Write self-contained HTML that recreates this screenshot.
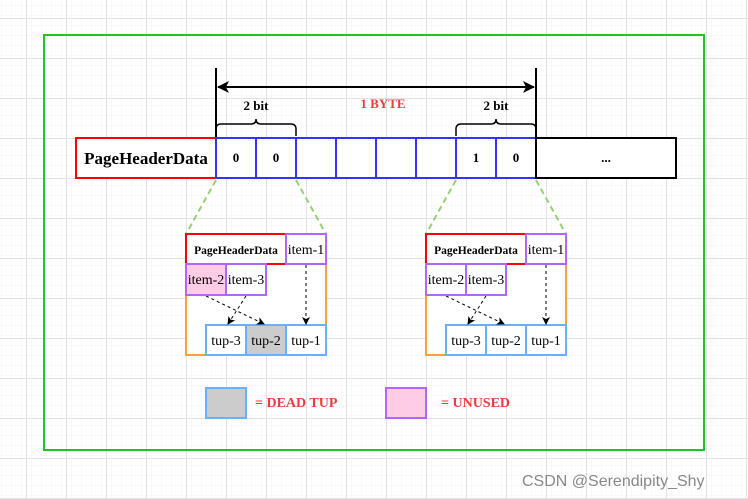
<!DOCTYPE html>
<html><head><meta charset="utf-8"><style>
body{margin:0;width:748px;height:499px;overflow:hidden;background:#fff;}
svg{display:block}
text{font-family:"Liberation Serif",serif;}
</style></head><body>
<svg width="748" height="499" viewBox="0 0 748 499" xmlns="http://www.w3.org/2000/svg">
<defs>
<pattern id="minor" x="6" y="8" width="10" height="10" patternUnits="userSpaceOnUse"><path d="M10 0V10M0 10H10" stroke="#f3f3f3" stroke-width="1" fill="none"/></pattern>
<pattern id="major" x="26" y="18" width="40" height="40" patternUnits="userSpaceOnUse"><rect width="40" height="40" fill="url(#minor)"/><path d="M0.5 0V40M0 0.5H40" stroke="#e2e2e2" stroke-width="1" fill="none"/></pattern>
<marker id="ah" markerWidth="8" markerHeight="8" refX="7" refY="4" orient="auto"><path d="M0 0L8 4L0 8L2 4Z" fill="#000"/></marker>
<marker id="big" markerWidth="12" markerHeight="12" refX="1" refY="6" orient="auto" markerUnits="userSpaceOnUse"><path d="M12 0L0 6L12 12L9 6Z" fill="#000"/></marker>
<marker id="big2" markerWidth="12" markerHeight="12" refX="11" refY="6" orient="auto" markerUnits="userSpaceOnUse"><path d="M0 0L12 6L0 12L3 6Z" fill="#000"/></marker>
</defs>
<rect width="748" height="499" fill="url(#major)"/>
<rect x="44" y="35" width="660" height="415" fill="none" stroke="#22c322" stroke-width="2"/>
<line x1="216" y1="68" x2="216" y2="138" stroke="#000" stroke-width="2"/>
<line x1="536" y1="68" x2="536" y2="138" stroke="#000" stroke-width="2"/>
<line x1="218" y1="87" x2="534" y2="87" stroke="#000" stroke-width="2" marker-start="url(#big)" marker-end="url(#big2)"/>
<text x="383" y="108" font-size="13" font-weight="bold" fill="#f03b3b" text-anchor="middle">1 BYTE</text>
<text x="256" y="110" font-size="13" font-weight="bold" text-anchor="middle">2 bit</text>
<text x="496" y="110" font-size="13" font-weight="bold" text-anchor="middle">2 bit</text>
<path d="M216 136V129Q216 124 221 124H251Q256 124 256 119Q256 124 261 124H291Q296 124 296 129V136" fill="none" stroke="#000" stroke-width="1.5"/>
<path d="M456 136V129Q456 124 461 124H491Q496 124 496 119Q496 124 501 124H531Q536 124 536 129V136" fill="none" stroke="#000" stroke-width="1.5"/>
<rect x="76" y="138" width="140" height="40" fill="#fff" stroke="#f00" stroke-width="2"/>
<text x="146" y="164" font-size="17" font-weight="bold" text-anchor="middle">PageHeaderData</text>
<g fill="#fff" stroke="#3333ff" stroke-width="2">
<rect x="216" y="138" width="40" height="40"/><rect x="256" y="138" width="40" height="40"/><rect x="296" y="138" width="40" height="40"/><rect x="336" y="138" width="40" height="40"/><rect x="376" y="138" width="40" height="40"/><rect x="416" y="138" width="40" height="40"/><rect x="456" y="138" width="40" height="40"/><rect x="496" y="138" width="40" height="40"/>
</g>
<rect x="536" y="138" width="140" height="40" fill="#fff" stroke="#000" stroke-width="2"/>
<g font-size="13" font-weight="bold" text-anchor="middle">
<text x="236" y="162">0</text><text x="276" y="162">0</text><text x="476" y="162">1</text><text x="516" y="162">0</text><text x="606" y="162">...</text>
</g>
<g stroke="#97d077" stroke-width="2" stroke-dasharray="6,4">
<line x1="216" y1="180" x2="186" y2="234"/><line x1="296" y1="180" x2="326" y2="234"/>
<line x1="456" y1="180" x2="426" y2="234"/><line x1="536" y1="180" x2="566" y2="234"/>
</g>
<g id="d">
<rect x="186" y="234" width="140" height="121" fill="#fff" stroke="#ffa040" stroke-width="2"/>
<rect x="186" y="234" width="100" height="30" fill="#fff" stroke="#f00" stroke-width="2"/>
<text x="236" y="254" font-size="11.5" font-weight="bold" text-anchor="middle">PageHeaderData</text>
<rect x="286" y="234" width="40" height="30" fill="#fff" stroke="#b266ff" stroke-width="2"/>
<text x="306" y="254" font-size="14" text-anchor="middle">item-1</text>
<rect x="226" y="264" width="40" height="31" fill="#fff" stroke="#b266ff" stroke-width="2"/>
<text x="246" y="284" font-size="14" text-anchor="middle">item-3</text>
<rect x="206" y="325" width="120" height="30" fill="#fff" stroke="#66b2ff" stroke-width="2"/>
<line x1="246" y1="325" x2="246" y2="355" stroke="#66b2ff" stroke-width="2"/>
<line x1="286" y1="325" x2="286" y2="355" stroke="#66b2ff" stroke-width="2"/>
<g font-size="14" text-anchor="middle"><text x="226" y="345">tup-3</text><text x="306" y="345">tup-1</text></g>
<g stroke="#000" stroke-width="1" stroke-dasharray="3,3" marker-end="url(#ah)">
<line x1="306" y1="265" x2="306" y2="324"/>
<line x1="206" y1="296" x2="264" y2="324"/>
<line x1="246" y1="296" x2="228" y2="324"/>
</g>
</g>
<rect x="186" y="264" width="40" height="31" fill="#ffcce6" stroke="#b266ff" stroke-width="2"/>
<text x="206" y="284" font-size="14" text-anchor="middle">item-2</text>
<rect x="247" y="326" width="38" height="28" fill="#cccccc"/>
<text x="266" y="345" font-size="14" text-anchor="middle">tup-2</text>
<use href="#d" x="240"/>
<rect x="426" y="264" width="40" height="31" fill="#fff" stroke="#b266ff" stroke-width="2"/>
<text x="446" y="284" font-size="14" text-anchor="middle">item-2</text>
<text x="506" y="345" font-size="14" text-anchor="middle">tup-2</text>
<rect x="206" y="388" width="40" height="30" fill="#cccccc" stroke="#66b2ff" stroke-width="2"/>
<text x="255" y="407" font-size="14" font-weight="bold" fill="#f03b3b">= DEAD TUP</text>
<rect x="386" y="388" width="40" height="30" fill="#ffcce6" stroke="#b266ff" stroke-width="2"/>
<text x="441" y="407" font-size="14" font-weight="bold" fill="#f03b3b">= UNUSED</text>
<text x="522" y="486" font-size="16" fill="#888" style="font-family:'Liberation Sans',sans-serif">CSDN @Serendipity_Shy</text>
</svg>
</body></html>
